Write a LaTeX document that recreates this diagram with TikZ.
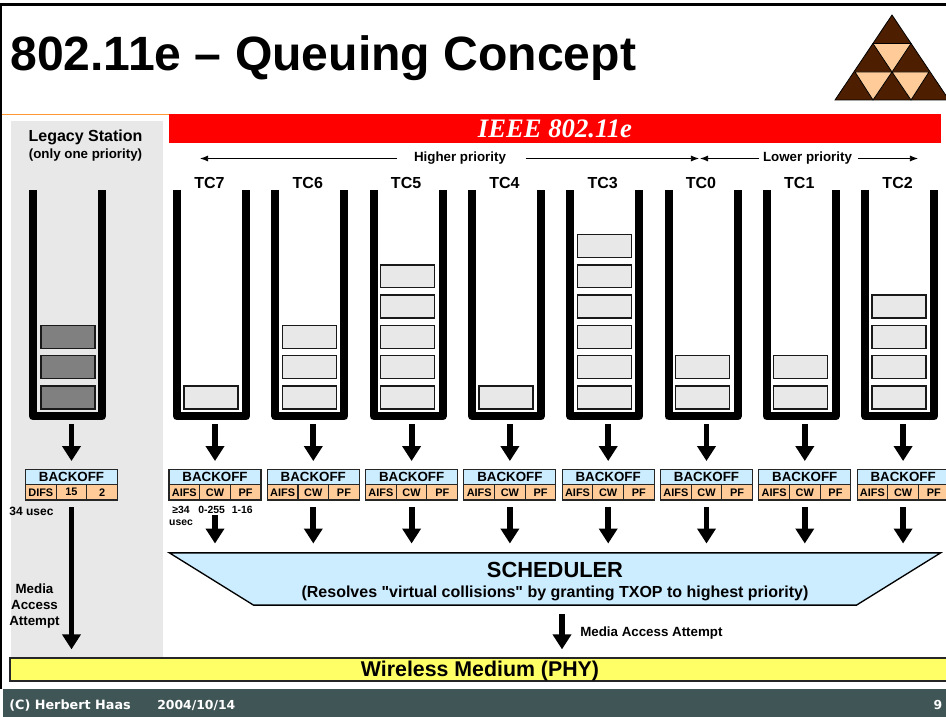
\documentclass[tikz,border=0pt]{standalone}
\usepackage{fontspec}
\setmainfont{Liberation Sans}
\newfontfamily\schedfont{Liberation Sans}
\newfontfamily\serifbf{Liberation Serif}
\newfontfamily\footfont{DejaVu Sans}
\usepackage{tikz}
\usetikzlibrary{arrows.meta,calc,positioning,shapes.geometric}
\definecolor{panel}{HTML}{E8E8E8}
\definecolor{pktgray}{HTML}{808080}
\definecolor{skyfill}{HTML}{CCECFF}
\definecolor{peach}{HTML}{FFCC99}
\definecolor{phyyellow}{HTML}{FFFF66}
\definecolor{footgreen}{HTML}{405555}
\definecolor{rule}{HTML}{FF9933}
\definecolor{logobrown}{HTML}{4D1F00}
\tikzset{
  lbl/.style={font=\fontsize{10}{12}\selectfont\bfseries,inner sep=0pt,align=center},
  tclbl/.style={font=\fontsize{12}{14}\selectfont\bfseries,inner sep=0pt,anchor=base},
  tiny/.style={font=\fontsize{7.8}{8.6}\selectfont\bfseries,inner sep=0pt,align=center},
  qbox/.style={minimum width=51.75pt,minimum height=169.9pt,inner sep=0pt,outer sep=0pt},
  qwall/.style={line width=6pt,line join=round},
  pkt/.style={draw=black!90,line width=1pt,fill=panel,minimum width=40.5pt,minimum height=17.2pt,inner sep=0pt,outer sep=0pt},
  bkhead/.style={draw=black!85,line width=0.8pt,fill=skyfill,minimum width=69pt,minimum height=11.6pt,inner sep=0pt,outer sep=0pt,font=\fontsize{10}{11}\selectfont\bfseries},
  bkcell/.style={draw=black!85,line width=0.8pt,fill=peach,minimum width=23pt,minimum height=11.6pt,inner sep=0pt,outer sep=0pt,font=\fontsize{8.2}{9}\selectfont\bfseries},
  bigarrow/.style={line width=4.4pt,-{Triangle[length=11.25pt,width=13.5pt]}},
  thinarrow/.style={->,line width=0.7pt}
}
\begin{document}
\begin{tikzpicture}[>=Latex,x=0.75pt,y=-0.75pt]
        \useasboundingbox (0,0) rectangle (946,717);
        \draw[line width=2.4pt] (-1,4.5) -- (946,4.5);
        \draw[line width=1.5pt] (1,4.5) -- (1,689);
        \draw[rule,line width=1pt] (2,114.5) -- (169,114.5);
        \node[font=\fontsize{36.1}{40}\selectfont\bfseries,anchor=base west,inner sep=0pt] (title) at (10,70) {802.11e -- Queuing Concept};
        \fill[logobrown,draw=black,line width=0.6pt] (835,100) -- (892,15) -- (949,100) -- cycle;
        \draw[fill=peach,line width=0.6pt] (873,43.5) -- (911,43.5) -- (892,72) -- cycle;
        \draw[fill=peach,line width=0.6pt] (855,72) -- (892,72) -- (873,100) -- cycle;
        \draw[fill=peach,line width=0.6pt] (892,72) -- (929,72) -- (911,100) -- cycle;
        \node[fill=panel,minimum width=114pt,minimum height=402.75pt,inner sep=0pt] (legacy) at (87,389.5) {};
        \node[fill=red,text=white,minimum width=579pt,minimum height=21.75pt,inner sep=0pt,font=\fontsize{20}{22}\selectfont\serifbf\bfseries\itshape] (ieee) at (555,128.5) {IEEE 802.11e};
        \node[font=\fontsize{12}{14}\selectfont\bfseries,inner sep=0pt] (legtitle) at (85.5,137) {Legacy Station};
        \node[font=\fontsize{10}{12}\selectfont\bfseries,inner sep=0pt] (legsub) at (85.5,155) {(only one priority)};
        \node[lbl] (higher) at (460,158.5) {Higher priority};
        \node[lbl] (lower) at (807.5,158.5) {Lower priority};
        \coordinate (hitipl) at (200,158.5);
        \coordinate (hitipr) at (699,158.5);
        \coordinate (lotipl) at (700,158.5);
        \coordinate (lotipr) at (918,158.5);
        \draw[thinarrow,shorten <=12.75pt] (higher.west) -- (hitipl);
        \draw[thinarrow,shorten <=14.5pt] (higher.east) -- (hitipr);
        \draw[thinarrow,shorten <=2.5pt] (lower.west) -- (lotipl);
        \draw[thinarrow,shorten <=4.5pt] (lower.east) -- (lotipr);
        \node[qbox] (qL) at (67.5,303.2) {};
        \draw[qwall] (qL.north west) -- (qL.south west) -- (qL.south east) -- (qL.north east);
        \foreach \i in {0,1,2} {
          \node[pkt,fill=pktgray] (pktL\i) at (68,397.5-30.3*\i) {};
        }
        \node[bkhead] (bkL) at (71.5,476.8) {BACKOFF};
        \node[bkcell,below=0pt of bkL] (cwL) {15};
        \node[bkcell,left=0pt of cwL] (aifsL) {DIFS};
        \node[bkcell,right=0pt of cwL] (pfL) {2};
        \draw[bigarrow,shorten <=5.6pt,shorten >=6pt] (qL.south -| bkL.north) -- (bkL.north);
        \node[fill=phyyellow,draw=black!85,line width=1pt,minimum width=705pt,minimum height=17.2pt,inner sep=0pt,text height=11.5pt,text depth=0.5pt,font=\fontsize{16}{18}\selectfont\bfseries] (phy) at (480,669.5) {Wireless Medium (PHY)};
        \node[trapezium,trapezium stretches=true,shape border rotate=180,trapezium left angle=29.5,trapezium right angle=29.5,fill=skyfill,draw=black,line width=1pt,minimum width=582pt,minimum height=39.2pt,inner sep=0pt] (sched) at (555,579) {\rule{380pt}{0pt}\rule{0pt}{30pt}};
        \node[inner sep=0pt,align=center] (schedtxt) at (555,581.5) {{\fontsize{16.4}{20}\selectfont\bfseries SCHEDULER}\\[2.5pt]{\fontsize{12}{14}\selectfont\schedfont\bfseries (Resolves "virtual collisions" by granting TXOP to highest priority)}};
        \foreach \tc/\slot/\npkt/\gapb in {7/0/1/15,6/1/3/7,5/2/5/7,4/3/1/7,3/4/6/7,0/5/2/7,1/6/2/7,2/7/4/7} {
          \pgfmathsetmacro\xq{173+98.3*\slot}
          \node[tclbl] (tc\tc) at (\xq+36.5,188) {TC\tc};
          \node[qbox] (q\tc) at (\xq+38.5,303.2) {};
          \draw[qwall] (q\tc.north west) -- (q\tc.south west) -- (q\tc.south east) -- (q\tc.north east);
          \foreach \i in {1,...,\npkt} {
            \node[pkt] (pkt\tc-\i) at (\xq+38,397.5-30.3*\i+30.3) {};
          }
          \node[bkhead] (bk\tc) at (\xq+42,476.8) {BACKOFF};
          \node[bkcell,below=0pt of bk\tc] (cw\tc) {CW};
          \node[bkcell,left=0pt of cw\tc] (aifs\tc) {AIFS};
          \node[bkcell,right=0pt of cw\tc] (pf\tc) {PF};
          \draw[bigarrow,shorten <=5.6pt,shorten >=6pt] (q\tc.south -| bk\tc.north) -- (bk\tc.north);
          \draw[bigarrow,shorten <=\gapb*0.75pt,shorten >=6.5pt] (cw\tc.south) -- (cw\tc.south |- sched.north);
        }
        \node[font=\fontsize{9}{11}\selectfont\bfseries,inner sep=0pt] (difsnote) at (31.5,511) {34 usec};
        \node[tiny,below=4.8pt of aifs7,xshift=-2.5pt] (aifsnote) {≥34\\usec};
        \node[tiny,anchor=north,xshift=-2.5pt] (cwnote) at (aifsnote.north -| cw7.south) {0-255};
        \node[tiny,anchor=north,xshift=-2.5pt] (pfnote) at (aifsnote.north -| pf7.south) {1-16};
        \draw[bigarrow,shorten <=5.2pt,shorten >=6pt] (cwL.south) -- (cwL.south |- phy.north);
        \node[lbl] (legmedia) at (34.5,606) {Media\\Access\\Attempt};
        \coordinate (macc) at (562,614);
        \draw[bigarrow,shorten >=6pt] (macc) -- (macc |- phy.north);
        \node[lbl,anchor=west] (medialbl) at (580,633) {Media Access Attempt};
        \node[fill=footgreen,minimum width=708pt,minimum height=21pt,inner sep=0pt] (foot) at (475,703) {};
        \node[text=white,font=\fontsize{9.6}{11}\selectfont\footfont\bfseries,anchor=west,inner sep=0pt] (author) at (9,705) {(C) Herbert Haas};
        \node[text=white,font=\fontsize{9.3}{11}\selectfont\footfont\bfseries,anchor=west,inner sep=0pt] (date) at (157,705) {2004/10/14};
        \node[text=white,font=\fontsize{9.3}{11}\selectfont\footfont\bfseries,inner sep=0pt] (pageno) at (938,705) {9};
      \end{tikzpicture}
\end{document}
